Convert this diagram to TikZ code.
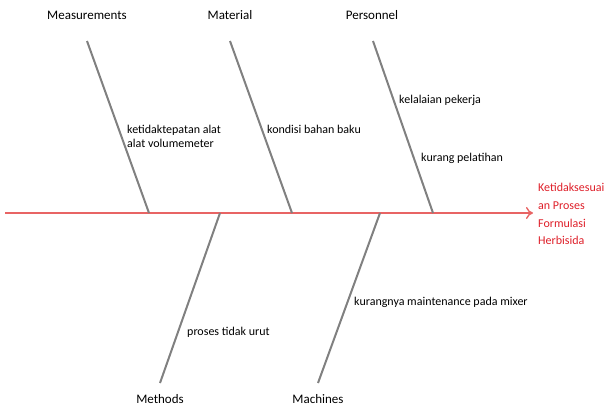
\documentclass[tikz,border=0pt]{standalone}
\usepackage{fontspec}
\setmainfont{Carlito}
\usetikzlibrary{arrows.meta}
\definecolor{bonegray}{RGB}{128,128,128}
\definecolor{spinered}{RGB}{232,100,100}
\definecolor{effectred}{RGB}{222,30,40}
\begin{document}
\begin{tikzpicture}[x=1pt,y=-1pt,
  bone/.style={draw=bonegray,line width=2pt},
  spine/.style={draw=spinered,line width=2pt,-{To[length=7pt,width=12pt,line width=1.4pt]}},
  cat/.style={font=\fontsize{13}{15}\selectfont,inner sep=0pt},
  cause/.style={font=\fontsize{12}{14}\selectfont,inner sep=0pt,anchor=west,align=left},
  effect/.style={font=\fontsize{12}{17.8}\selectfont,text=effectred,inner sep=0pt,anchor=west,align=left}]
\useasboundingbox (0,0) rectangle (611,407);

% spine
\coordinate (tail) at (5,213);
\coordinate (head) at (533,213);
\draw[spine] (tail) -- (head);
\node[effect] (eff) at (538,214) {Ketidaksesuai\\an Proses\\Formulasi\\Herbisida};

% category headings
\node[cat] (meas) at (87,15) {Measurements};
\node[cat] (mat) at (230,15) {Material};
\node[cat] (pers) at (372,15) {Personnel};
\node[cat] (meth) at (160,399) {Methods};
\node[cat] (mach) at (318,399) {Machines};

% bone ends
\coordinate (measT) at (87,41);   \coordinate (measB) at (149,213);
\coordinate (matT) at (230,41);   \coordinate (matB) at (292,213);
\coordinate (persT) at (373,41);  \coordinate (persB) at (433,213);
\coordinate (methT) at (220,213); \coordinate (methB) at (160,383);
\coordinate (machT) at (380,213); \coordinate (machB) at (318,383);

\draw[bone] (measT) -- (measB);
\draw[bone] (matT) -- (matB);
\draw[bone] (persT) -- (persB);
\draw[bone] (methT) -- (methB);
\draw[bone] (machT) -- (machB);

% causes
\node[cause] (c1) at (127,136) {ketidaktepatan alat\\alat volumemeter};
\node[cause] (c2) at (267,129) {kondisi bahan baku};
\node[cause] (c3) at (399,100) {kelalaian pekerja};
\node[cause] (c4) at (421,158) {kurang pelatihan};
\node[cause] (c5) at (187,332) {proses tidak urut};
\node[cause] (c6) at (354,302) {kurangnya maintenance pada mixer};
\end{tikzpicture}
\end{document}
